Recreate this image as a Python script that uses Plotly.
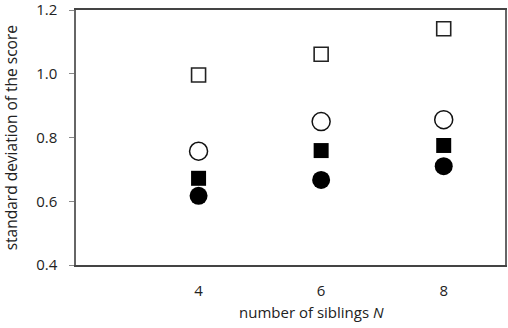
import plotly.graph_objects as go

siblings = [4, 6, 8]
open_squares = [0.996, 1.061, 1.141]
open_circles = [0.757, 0.850, 0.856]
filled_squares = [0.672, 0.759, 0.775]
filled_circles = [0.617, 0.667, 0.710]

y_ticks = [0.4, 0.6, 0.8, 1.0, 1.2]
y_tick_text = ["0.4", "0.6", "0.8", "1.0", "1.2"]
x_ticks = [4, 6, 8]

FONT = "Open Sans"

fig = go.Figure()
fig.add_trace(go.Scatter(x=siblings, y=open_squares, mode="markers",
                         marker=dict(symbol="square-open", size=14, color="#222",
                                     line=dict(width=1.6, color="#222"))))
fig.add_trace(go.Scatter(x=siblings, y=open_circles, mode="markers",
                         marker=dict(symbol="circle", size=18, color="white",
                                     line=dict(width=1.5, color="#111"))))
fig.add_trace(go.Scatter(x=siblings, y=filled_squares, mode="markers",
                         marker=dict(symbol="square", size=15, color="black",
                                     line=dict(width=0))))
fig.add_trace(go.Scatter(x=siblings, y=filled_circles, mode="markers",
                         marker=dict(symbol="circle", size=18, color="black",
                                     line=dict(width=0))))

fig.update_layout(
    width=508, height=328,
    margin=dict(l=76, r=3, t=10, b=63, autoexpand=False),
    paper_bgcolor="white", plot_bgcolor="white",
    showlegend=False,
    font=dict(family=FONT, color="#222"),
    xaxis=dict(range=[2, 9], tickvals=x_ticks, ticks="", showgrid=False,
               zeroline=False, showline=True, linecolor="#444", linewidth=1.5,
               mirror=True, tickfont=dict(size=15, family=FONT),
               ticklabelstandoff=11, automargin=False),
    yaxis=dict(range=[0.4, 1.2], tickvals=y_ticks, ticktext=y_tick_text,
               ticks="outside", ticklen=5, tickcolor="#888", tickwidth=1,
               showgrid=False, zeroline=False, showline=True,
               linecolor="#666", linewidth=1.5, mirror=True,
               tickfont=dict(size=15, family=FONT), automargin=False,
               ticklabelstandoff=9, ticklabeloverflow="allow"),
)

fig.add_annotation(text="standard deviation of the score", xref="paper", yref="paper",
                   x=-0.152, y=0.5, xanchor="center", yanchor="middle", textangle=-90,
                   showarrow=False, font=dict(size=15.5, family=FONT, color="#222"))
fig.add_annotation(text="number of siblings <i>N</i>", xref="paper", yref="paper",
                   x=0.549, y=-0.183, xanchor="center", yanchor="middle",
                   showarrow=False, font=dict(size=15, family=FONT, color="#222"))

fig.write_html("out.html")
